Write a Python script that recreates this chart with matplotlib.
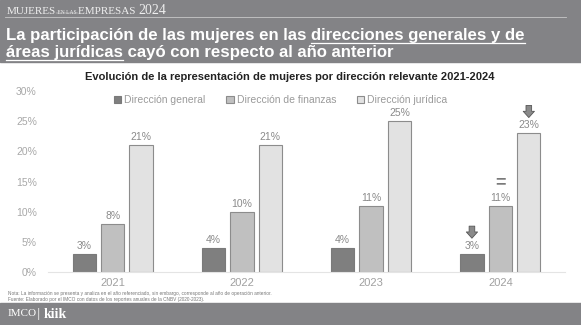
import matplotlib
matplotlib.use("Agg")
import matplotlib.pyplot as plt
import numpy as np

plt.rcParams["font.family"] = ["Liberation Sans", "DejaVu Sans"]

years = ["2021", "2022", "2023", "2024"]
series_names = ["Dirección general", "Dirección de finanzas", "Dirección jurídica"]
general = [3, 4, 4, 3]
finanzas = [8, 10, 11, 11]
juridica = [21, 21, 25, 23]
# change markers on the last year: -1 down, 0 equal
trend_2024 = [-1, 0, -1]

W, H = 581, 325
fig = plt.figure(figsize=(W / 100, H / 100), dpi=100)
fig.patch.set_facecolor("white")


def fy(py):
    return 1 - py / H


def fx(px):
    return px / W


band = "#838386"
fig.patches.append(plt.Rectangle((0, fy(62)), 1, 62 / H, transform=fig.transFigure,
                                 color=band, zorder=0))
fig.patches.append(plt.Rectangle((0, 0), 1, 22 / H, transform=fig.transFigure,
                                 color=band, zorder=0))

r = fig.canvas.get_renderer()


def run_line(px, py, parts, underline_gap=3, lw=0.9):
    # parts: (text, underline, text kwargs)
    x = fx(px)
    for txt, ul, kw in parts:
        t = fig.text(x, fy(py), txt, va="baseline", **kw)
        bb = t.get_window_extent(r)
        x0, x1 = bb.x0 / W, bb.x1 / W
        if ul:
            fig.add_artist(plt.Line2D([x0, x1], [fy(py + underline_gap), fy(py + underline_gap)],
                                      color=kw.get("color", "white"), lw=lw))
        x = x1


serif = dict(family="Liberation Serif", color="#eeeeee")
run_line(7, 14, [("MUJERES", False, dict(fontsize=8, **serif)),
                 (" EN LAS ", True, dict(fontsize=4, **serif)),
                 ("EMPRESAS ", False, dict(fontsize=8, **serif)),
                 ("2024", False, dict(fontsize=10, **serif))], underline_gap=-1, lw=0.3)
fig.add_artist(plt.Line2D([fx(5), fx(566)], [fy(17), fy(17)], color="#c8c8c8", lw=0.6))

title_kw = dict(fontsize=12.1, color="white", weight="bold")
run_line(6, 40, [("La participación de las mujeres en las ", False, title_kw),
                 ("direcciones generales y de", True, title_kw)])
run_line(6, 57, [("áreas jurídicas", True, title_kw),
                 (" cayó con respecto al año anterior", False, title_kw)])

# chart
ax = fig.add_axes([fx(48), fy(272), fx(565) - fx(48), (272 - 91) / H])
x = np.arange(len(years))
w = 0.18
step = 0.22
colors = ["#7f7f7f", "#c0c0c0", "#e2e2e2"]
edges = ["#7a7a7a", "#8c8c8c", "#8c8c8c"]
data = [general, finanzas, juridica]
for i, (vals, name) in enumerate(zip(data, series_names)):
    pos = x + (i - 1) * step
    ax.bar(pos, vals, w, color=colors[i], edgecolor=edges[i], lw=0.8, label=name)
    for p, v in zip(pos, vals):
        ax.text(p, v + 0.5, f"{v}%", ha="center", va="bottom", fontsize=7.5, color="#8a8a8a")
    # trend marker on 2024
    p, v = pos[-1], vals[-1]
    if trend_2024[i] < 0:
        ax.annotate("", xy=(p, v + 2.6), xytext=(p, v + 4.6),
                    arrowprops=dict(arrowstyle="simple,head_width=0.9,tail_width=0.45,head_length=0.5",
                                    fc="#8a8a8a", ec="#555555", lw=0.6,
                                    shrinkA=0, shrinkB=0, mutation_scale=9))
    else:
        ax.text(p, v + 2.4, "=", ha="center", va="bottom", fontsize=13, weight="bold",
                color="#7a7a7a")

ax.set_xlim(-0.5, 3.5)
ax.set_ylim(0, 30)
ax.set_yticks(range(0, 31, 5))
ax.set_yticklabels([f"{t}%" for t in range(0, 31, 5)])
ax.set_xticks(x)
ax.set_xticklabels(years)
ax.tick_params(axis="y", length=0, labelsize=7.5, labelcolor="#a8a8a8", pad=8)
ax.tick_params(axis="x", length=0, labelsize=8, labelcolor="#a0a0a0", pad=4)
for s in ["left", "right", "top"]:
    ax.spines[s].set_visible(False)
ax.spines["bottom"].set_color("#e4e4e4")
ax.set_facecolor("none")

fig.text(fx(290), fy(77), "Evolución de la representación de mujeres por dirección relevante 2021-2024",
         ha="center", va="center", fontsize=8, weight="bold", color="#222222")
ax.legend(loc="center", bbox_to_anchor=(0.45, 1 - (100 - 91) / (272 - 91)), ncol=3,
          frameon=False, fontsize=7.5, labelcolor="#9a9a9a", handlelength=0.7,
          handleheight=0.7, handletextpad=0.3, columnspacing=2.0, borderaxespad=0)

fig.text(fx(8), fy(294), "Nota: La información se presenta y analiza en el año referenciado, sin embargo, "
         "corresponde al año de operación anterior.", fontsize=3.4, color="#777777", va="center")
fig.text(fx(8), fy(299), "Fuente: Elaborado por el IMCO con datos de los reportes anuales de la CNBV "
         "(2020-2023).", fontsize=3.4, color="#777777", va="center")

fig.text(fx(8), fy(314), "IMCO", family="Liberation Serif", fontsize=8, color="white", va="center")
fig.text(fx(37), fy(314), "|", fontsize=9, color="#dddddd", va="center")
fig.text(fx(44), fy(314), "kiik", family="Liberation Serif", fontsize=10, weight="bold",
         color="white", va="center")

fig.savefig("out.png", dpi=100)
